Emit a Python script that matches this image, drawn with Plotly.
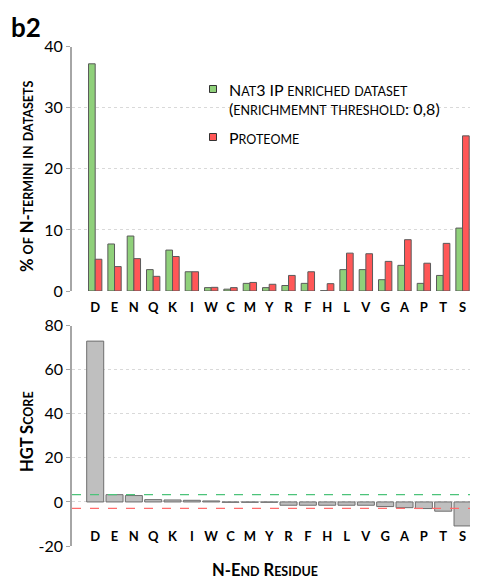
import plotly.graph_objects as go
from plotly.subplots import make_subplots

residues = ["D", "E", "N", "Q", "K", "I", "W", "C", "M", "Y",
            "R", "F", "H", "L", "V", "G", "A", "P", "T", "S"]
nat3_ip = [37.2, 7.7, 9.0, 3.5, 6.7, 3.15, 0.55, 0.3, 1.25, 0.55,
           0.9, 1.25, 0.05, 3.5, 3.5, 1.85, 4.2, 1.25, 2.55, 10.3]
proteome = [5.2, 4.0, 5.3, 2.4, 5.65, 3.15, 0.6, 0.55, 1.4, 1.1,
            2.55, 3.15, 1.2, 6.2, 6.1, 4.85, 8.4, 4.55, 7.8, 25.4]
hgt_score = [73.0, 3.3, 2.9, 1.05, 0.9, 0.75, 0.45, -0.15, -0.15, -0.15,
             -1.5, -1.5, -1.5, -1.5, -1.5, -2.1, -2.6, -3.0, -4.2, -10.9]
upper_threshold = 3.3
lower_threshold = -2.9
hgt_ticks = [-20, 0, 20, 40, 60, 80]
hgt_ticktext = ["-20", "0", "20", "40", "60", "80"]

# the page puts the figure 8px in from the top-left corner of the window
OFF = 8
W, H = 478 - OFF, 582 - OFF
FONT = "Lato"
GREEN = "#8fd07a"
RED = "#ff5757"
GRID = "#d9d9d9"
AXIS = "#a6a6a6"


def px(x):
    return (x - OFF) / W


def py(y):
    return 1 - (y - OFF) / H


def smallcaps(text, big=15, small=11):
    # capitals stay full size, lowercase letters become small capitals
    out = []
    for ch in text:
        if ch.islower():
            out.append('<span style="font-size:%spx">%s</span>' % (small, ch.upper()))
        else:
            out.append('<span style="font-size:%spx">%s</span>' % (big, ch))
    return "".join(out)


fig = make_subplots(rows=2, cols=1)

fig.add_trace(go.Bar(x=residues, y=nat3_ip, marker_color=GREEN, name="Nat3 IP",
                     marker_line=dict(color="#5a5a5a", width=1)), row=1, col=1)
fig.add_trace(go.Bar(x=residues, y=proteome, marker_color=RED, name="Proteome",
                     marker_line=dict(color="#5a5a5a", width=1)), row=1, col=1)
fig.add_trace(go.Bar(x=residues, y=hgt_score, marker_color="#bfbfbf", width=0.88,
                     name="HGT score",
                     marker_line=dict(color="#6e6e6e", width=1)), row=2, col=1)

fig.add_hline(y=upper_threshold, line=dict(color="#4cc37a", width=1.2, dash="dash"), row=2, col=1)
fig.add_hline(y=lower_threshold, line=dict(color="#ff6b6b", width=1.2, dash="dash"), row=2, col=1)

fig.update_xaxes(range=[-1.2, 19.8], domain=[px(72), 1], showline=False, showgrid=False,
                 ticks="", tickfont=dict(family=FONT, size=13, color="black", weight="bold"),
                 automargin=False)
fig.update_xaxes(ticklabelstandoff=7, row=1, col=1)
fig.update_xaxes(anchor="free", position=py(521), ticklabelstandoff=6, row=2, col=1)

fig.update_yaxes(showline=True, linecolor=AXIS, showgrid=True, gridcolor=GRID, griddash="dot",
                 zeroline=False, ticks="outside", ticklen=4, tickcolor=AXIS,
                 tickfont=dict(family=FONT, size=16, color="black"), automargin=False)
fig.update_yaxes(range=[0, 40], dtick=10, linewidth=2, domain=[py(291), py(46.7)], row=1, col=1)
fig.update_yaxes(range=[-20, 80], tickvals=hgt_ticks, ticktext=hgt_ticktext, linewidth=1.5,
                 domain=[py(546), py(325.7)], row=2, col=1)

# hand-built legend: small squares plus small-caps text
for yc, colour in [(89, GREEN), (137, RED)]:
    fig.add_shape(type="rect", xref="paper", yref="paper",
                  x0=px(209.5), x1=px(216.5), y0=py(yc + 3.5), y1=py(yc - 3.5),
                  fillcolor=colour, line=dict(color="#333", width=1))

annotations = [
    dict(text="<b>b2</b>", x=px(9), y=py(9), xanchor="left", yanchor="top",
         font=dict(size=26)),
    dict(text="<b>" + smallcaps("% of N-termini in datasets", 16.5, 12.5) + "</b>",
         x=px(27), y=py(176), textangle=-90, xanchor="center", yanchor="middle"),
    dict(text="<b>" + smallcaps("HGT Score", 16.5, 12.5) + "</b>",
         x=px(27), y=py(432), textangle=-90, xanchor="center", yanchor="middle"),
    dict(text="<b>" + smallcaps("N-End Residue", 16.5, 12.5) + "</b>",
         x=px(265), y=py(570), xanchor="center", yanchor="middle"),
    dict(text=smallcaps("Nat3 IP enriched dataset", 16, 12.5),
         x=px(227), y=py(90), xanchor="left", yanchor="middle"),
    dict(text=smallcaps("(enrichmemnt threshold: 0,8)", 16, 12.5),
         x=px(227), y=py(108), xanchor="left", yanchor="middle"),
    dict(text=smallcaps("Proteome", 16, 12.5),
         x=px(227), y=py(137), xanchor="left", yanchor="middle"),
]
for a in annotations:
    a.update(xref="paper", yref="paper", showarrow=False)
    a.setdefault("font", {})
    a["font"].update(family=FONT, color="black")

fig.update_layout(
    width=W, height=H, margin=dict(l=0, r=0, t=0, b=0),
    template="none", plot_bgcolor="white", paper_bgcolor="white",
    barmode="group", bargap=0.31, bargroupgap=0,
    annotations=annotations, showlegend=False,
    font=dict(family=FONT, color="black"),
)

fig.write_html("out.html")
